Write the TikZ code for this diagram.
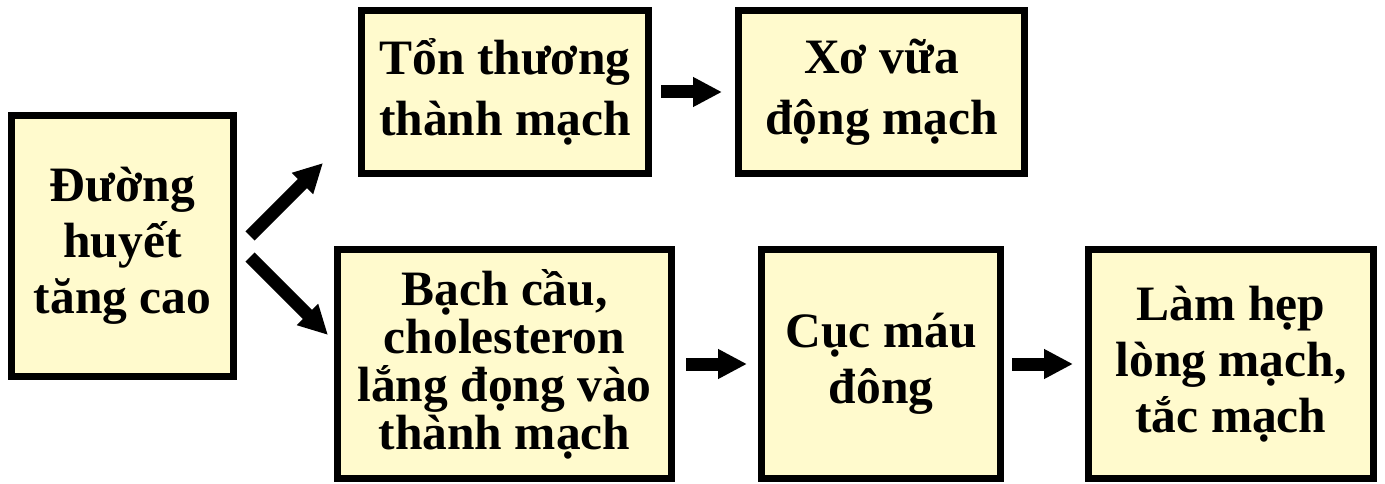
\documentclass[tikz,border=0pt]{standalone}
\usepackage{fontspec}
\setmainfont{Liberation Serif}
\usetikzlibrary{arrows.meta,calc}
\definecolor{boxfill}{RGB}{255,250,205}
\begin{document}
\begin{tikzpicture}[x=1pt,y=-1pt,
  box/.style={draw=black, line width=7pt, fill=boxfill, inner sep=0pt,
    align=center, font=\fontsize{49.5}{56}\selectfont\bfseries},
  topbox/.style={box, font=\fontsize{49.5}{61}\selectfont\bfseries},
  tightbox/.style={box, font=\fontsize{49.5}{48}\selectfont\bfseries},
  blockarrow/.style={line width=13pt, -{Triangle[length=29pt,width=28pt]}}]
\useasboundingbox (0,0) rectangle (1385,484);
\node[box, minimum width=222pt, minimum height=261pt] (b1) at (122.5,246) {Đường\\huyết\\tăng cao};
\node[topbox, minimum width=287pt, minimum height=163pt] (b2) at (505,92) {Tổn thương\\thành mạch};
\node[topbox, minimum width=286pt, minimum height=163pt] (b3) at (881.5,92) {Xơ vữa\\động mạch};
\node[tightbox, minimum width=334pt, minimum height=229pt] (b4) at (504.5,364) {Bạch cầu,\\cholesteron\\lắng đọng vào\\thành mạch};
\node[box, minimum width=239pt, minimum height=229pt] (b5) at (881,364) {Cục máu\\đông};
\node[box, minimum width=285pt, minimum height=229pt] (b6) at (1231,364) {Làm hẹp\\lòng mạch,\\tắc mạch};
\coordinate (upTail) at ($(b1.east)+(13,-10)$);
\coordinate (upTip) at ($(b2.south west)+(-35,-14)$);
\coordinate (dnTail) at ($(b1.east)+(13,11)$);
\coordinate (dnTip) at ($(b4.west)+(-6,-29)$);
\draw[blockarrow] (upTail) -- (upTip);
\draw[blockarrow] (dnTail) -- (dnTip);
\draw[blockarrow, shorten <=9pt, shorten >=13pt] (b2.east) -- (b3.west);
\draw[blockarrow, shorten <=11pt, shorten >=11pt] (b4.east) -- (b5.west);
\draw[blockarrow, shorten <=8pt, shorten >=12pt] (b5.east) -- (b6.west);
\end{tikzpicture}
\end{document}
